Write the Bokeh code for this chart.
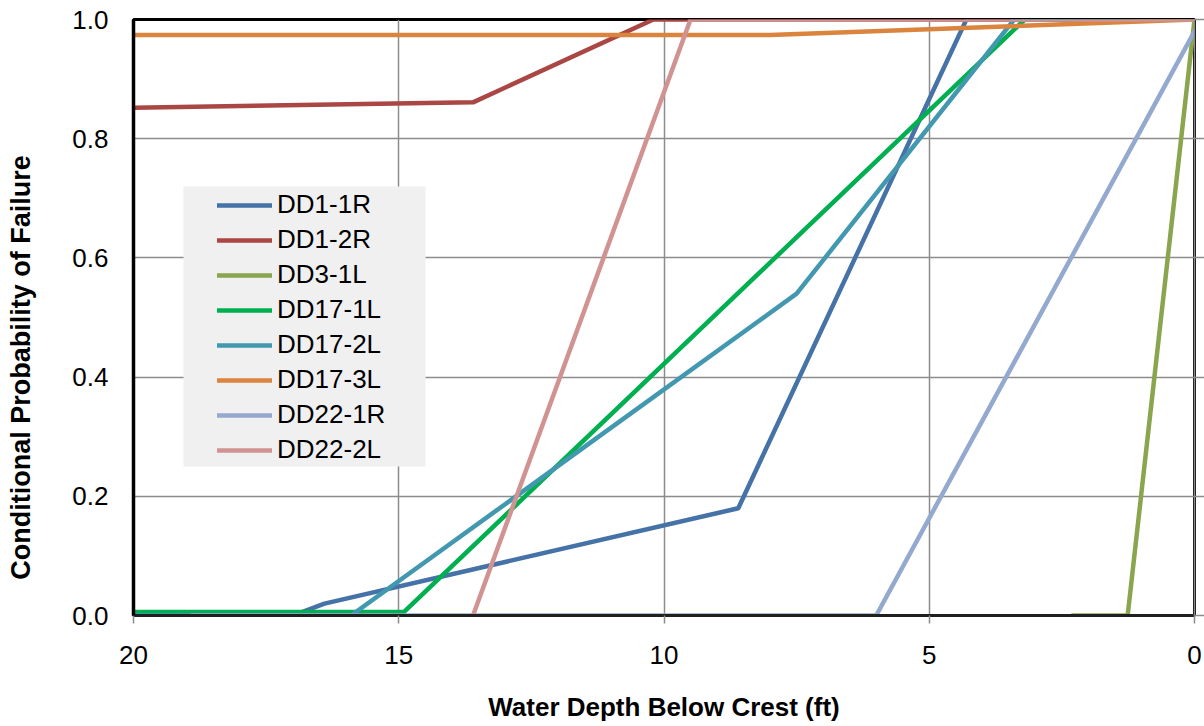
import math
from bokeh.plotting import figure
from bokeh.models import (Range1d, FixedTicker, Legend, LegendItem, BoxAnnotation,
                          PrintfTickFormatter, Label, LinearAxis)
from bokeh.embed import file_html
from bokeh.resources import INLINE

# ---- data ----
series_names = ["DD1-1R", "DD1-2R", "DD3-1L", "DD17-1L", "DD17-2L", "DD17-3L", "DD22-1R", "DD22-2L"]
series_colors = ["#4572A7", "#AA4643", "#89A54E", "#00B050", "#4198AF", "#DB843D", "#93A9CF", "#D19392"]

dd1_1r_x = [20, 17.0, 16.4, 8.6, 4.3, 0]
dd1_1r_y = [0, 0, 0.02, 0.18, 1.0, 1.0]
dd1_2r_x = [20, 13.6, 10.2, 0]
dd1_2r_y = [0.852, 0.861, 1.0, 1.0]
dd3_1l_x = [2.3, 1.26, 0]
dd3_1l_y = [0, 0, 1.0]
dd17_1l_x = [20, 14.9, 3.2, 0]
dd17_1l_y = [0.006, 0.006, 1.0, 1.0]
dd17_2l_x = [20, 15.9, 7.5, 3.4, 0]
dd17_2l_y = [0, 0, 0.54, 1.0, 1.0]
dd17_3l_x = [20, 8.0, 0]
dd17_3l_y = [0.974, 0.974, 1.0]
dd22_1r_x = [18.9, 6.0, 0]
dd22_1r_y = [0, 0, 0.98]
dd22_2l_x = [13.6, 9.5, 0]
dd22_2l_y = [0, 1.0, 1.0]

x_ticks = [0, 5, 10, 15, 20]
y_ticks = [0, 0.2, 0.4, 0.6, 0.8, 1.0]
x_title = "Water Depth Below Crest (ft)"
y_title = "Conditional Probability of Failure"

series_x = [dd1_1r_x, dd1_2r_x, dd3_1l_x, dd17_1l_x, dd17_2l_x, dd17_3l_x, dd22_1r_x, dd22_2l_x]
series_y = [dd1_1r_y, dd1_2r_y, dd3_1l_y, dd17_1l_y, dd17_2l_y, dd17_3l_y, dd22_1r_y, dd22_2l_y]

FONT = "Liberation Sans"
GRID = "#8C8C8C"

p = figure(width=1204, height=726, output_backend="svg", toolbar_location=None,
           x_range=Range1d(20, 0), y_range=Range1d(0, 1.0),
           min_border_left=133, min_border_right=10, min_border_top=19, min_border_bottom=111)

p.outline_line_color = "black"
p.outline_line_width = 3

# grid
p.xgrid.ticker = FixedTicker(ticks=x_ticks)
p.ygrid.ticker = FixedTicker(ticks=y_ticks)
for g in (p.xgrid, p.ygrid):
    g.grid_line_color = GRID
    g.grid_line_width = 1.5

# x axis
xa = p.xaxis[0]
xa.ticker = FixedTicker(ticks=x_ticks)
xa.axis_label = x_title
xa.axis_line_color = "#202020"
xa.axis_line_width = 3
xa.major_tick_out = 8
xa.major_tick_in = 0
xa.minor_tick_line_color = None
xa.major_tick_line_color = GRID
xa.major_tick_line_width = 1.5
xa.major_label_standoff = 22
xa.axis_label_standoff = 25

# y axis
ya = p.yaxis[0]
ya.ticker = FixedTicker(ticks=y_ticks)
ya.formatter = PrintfTickFormatter(format="%.1f")
ya.axis_line_color = "black"
ya.axis_line_width = 3.5
ya.major_tick_out = 0
ya.major_tick_in = 0
ya.minor_tick_line_color = None
ya.major_label_standoff = 25

for ax in (xa, ya):
    ax.major_label_text_font = FONT
    ax.major_label_text_font_size = "26px"
    ax.major_label_text_color = "black"
    ax.axis_label_text_font = FONT
    ax.axis_label_text_font_size = "26px"
    ax.axis_label_text_font_style = "bold"
    ax.axis_label_text_color = "black"

# right-hand tick marks
ra = LinearAxis(ticker=FixedTicker(ticks=y_ticks), major_tick_out=10, major_tick_in=0,
                major_tick_line_color=GRID, major_tick_line_width=1.5,
                minor_tick_line_color=None, axis_line_color=GRID, axis_line_width=1.5,
                major_label_text_alpha=0.0, major_label_text_font_size="1px")
p.add_layout(ra, "right")

# y-axis title, placed as in the reference (lower than the frame's centre);
# lives in the left side panel, positioned in panel-relative screen units
yt = Label(x=-19, y=248, x_units="screen", y_units="screen", text=y_title,
           angle=math.pi / 2, text_align="center", text_baseline="middle",
           text_font=FONT, text_font_size="27px", text_font_style="bold",
           text_color="black")
p.add_layout(yt, "left")

# legend background box
box = BoxAnnotation(left=183, right=425, top=186, bottom=466,
                    left_units="canvas", right_units="canvas", top_units="canvas", bottom_units="canvas",
                    fill_color="#F0F0F0", fill_alpha=1.0, line_color=None)
p.add_layout(box)

items = []
for name, color, xs, ys in zip(series_names, series_colors, series_x, series_y):
    r = p.line(xs, ys, line_color=color, line_width=4.5, line_join="round", line_cap="round")
    items.append(LegendItem(label=name, renderers=[r]))

legend = Legend(items=items, location=(84, 150), padding=7, margin=0,
                spacing=4, glyph_width=55, glyph_height=30, label_height=30,
                label_standoff=5, label_text_font=FONT, label_text_font_size="26px",
                label_text_color="black", background_fill_alpha=0.0,
                border_line_color=None)
p.add_layout(legend)

open("out.html", "w").write(file_html(p, INLINE))
